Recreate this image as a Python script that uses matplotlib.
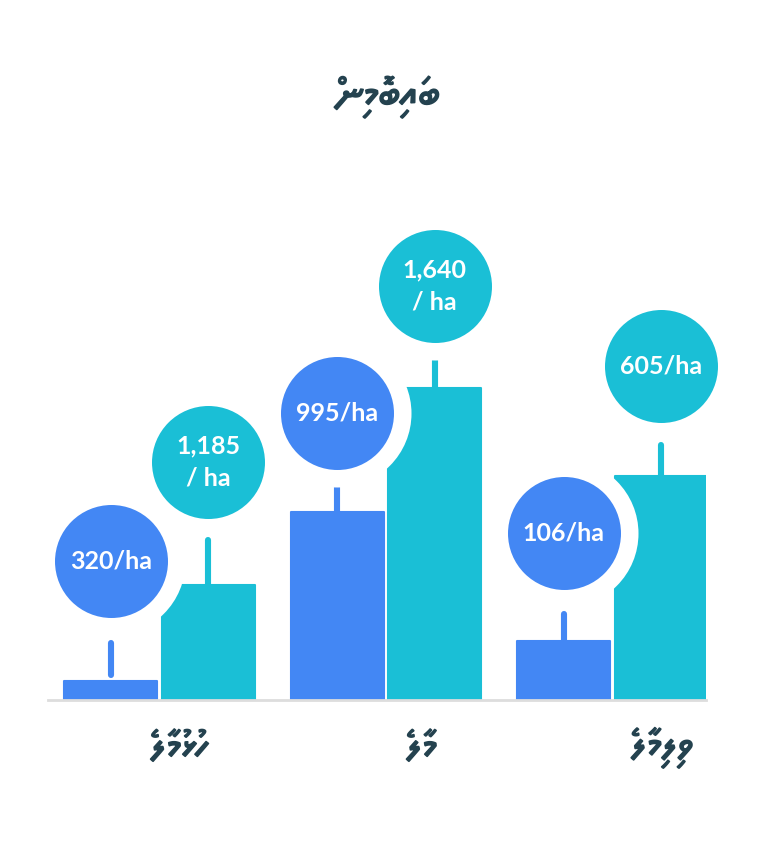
import matplotlib
matplotlib.use("Agg")
import matplotlib.pyplot as plt
import matplotlib.patheffects as pe

# data (bar heights and marker positions in chart units, 1 unit ~ 1 px)
categories = ["ހުޅުމާލެ", "މާލެ", "ވިލިމާލެ"]
title = "ބައިބޮމިން"
blue_vals = [19, 188, 59]
teal_vals = [115, 312, 224]
blue_err = [(25, 57), (188, 214), (59, 86)]
teal_err = [(115, 160), (312, 341), (224, 255)]
blue_bubble_y = [139, 287, 167]
teal_bubble_y = [238, 414, 334]
blue_labels = ["320/ha", "995/ha", "106/ha"]
teal_labels = ["1,185\n/ ha", "1,640\n/ ha", "605/ha"]
label_shift = [0.085, 0.155, 0.218]

BLUE = "#4387f4"
TEAL = "#1abfd6"
INK = "#24424f"
THAANA = ["Noto Sans Thaana", "DejaVu Sans"]


def visual(s):
    # no bidi in matplotlib: reverse the whole string so it reads right to left
    return s[::-1]


fig = plt.figure(figsize=(7.72, 8.52), dpi=100)
ax = fig.add_axes([48 / 772, 152 / 852, 658 / 772, 550 / 852])
ax.set_xlim(-0.492, 2.413)
ax.set_ylim(0, 550)

x = list(range(len(categories)))
w = 0.41
off = 0.215
bx = [i - off for i in x]
tx = [i + off for i in x]

ax.bar(bx, blue_vals, width=w, color=BLUE, edgecolor=BLUE, linewidth=1.5,
       joinstyle="round", zorder=1)
ax.bar(tx, teal_vals, width=w, color=TEAL, edgecolor=TEAL, linewidth=1.5,
       joinstyle="round", zorder=1)

for xs, err, c in [(bx, blue_err, BLUE), (tx, teal_err, TEAL)]:
    lc = ax.vlines(xs, [e[0] for e in err], [e[1] for e in err], colors=c,
                   linewidth=4.4, zorder=2)
    lc.set_capstyle("round")

# white halo behind bubbles, then bubbles
r_pt = 56.5 * 0.72
halo_pt = 74 * 0.72
ax.scatter(bx + tx, blue_bubble_y + teal_bubble_y, s=(2 * halo_pt) ** 2,
           color="white", linewidths=0, zorder=3, clip_on=False)
ax.scatter(bx, blue_bubble_y, s=(2 * r_pt) ** 2, color=BLUE, linewidths=0,
           zorder=4, clip_on=False)
ax.scatter(tx, teal_bubble_y, s=(2 * r_pt) ** 2, color=TEAL, linewidths=0,
           zorder=4, clip_on=False)

for xs, ys, labels in [(bx, blue_bubble_y, blue_labels), (tx, teal_bubble_y, teal_labels)]:
    for xi, yi, lab in zip(xs, ys, labels):
        ax.text(xi, yi, lab, ha="center", va="center", color="white",
                fontsize=18, fontweight="bold", family="Lato",
                linespacing=1.45, zorder=5, clip_on=False)

bold = [pe.withStroke(linewidth=1.2, foreground=INK)]
for i, cat in enumerate(categories):
    ax.text(i + label_shift[i], -0.087, visual(cat), transform=ax.get_xaxis_transform(),
            ha="center", va="center", color=INK, fontsize=28, family=THAANA,
            path_effects=bold)

fig.text(388 / 772, 1 - 97 / 852, visual(title), ha="center", va="center",
         color=INK, fontsize=29, family=THAANA, path_effects=bold)

for s in ["top", "left", "right"]:
    ax.spines[s].set_visible(False)
ax.spines["bottom"].set_color("#dddddd")
ax.spines["bottom"].set_linewidth(2)
ax.set_xticks([])
ax.set_yticks([])

fig.savefig("out.png", dpi=100)
